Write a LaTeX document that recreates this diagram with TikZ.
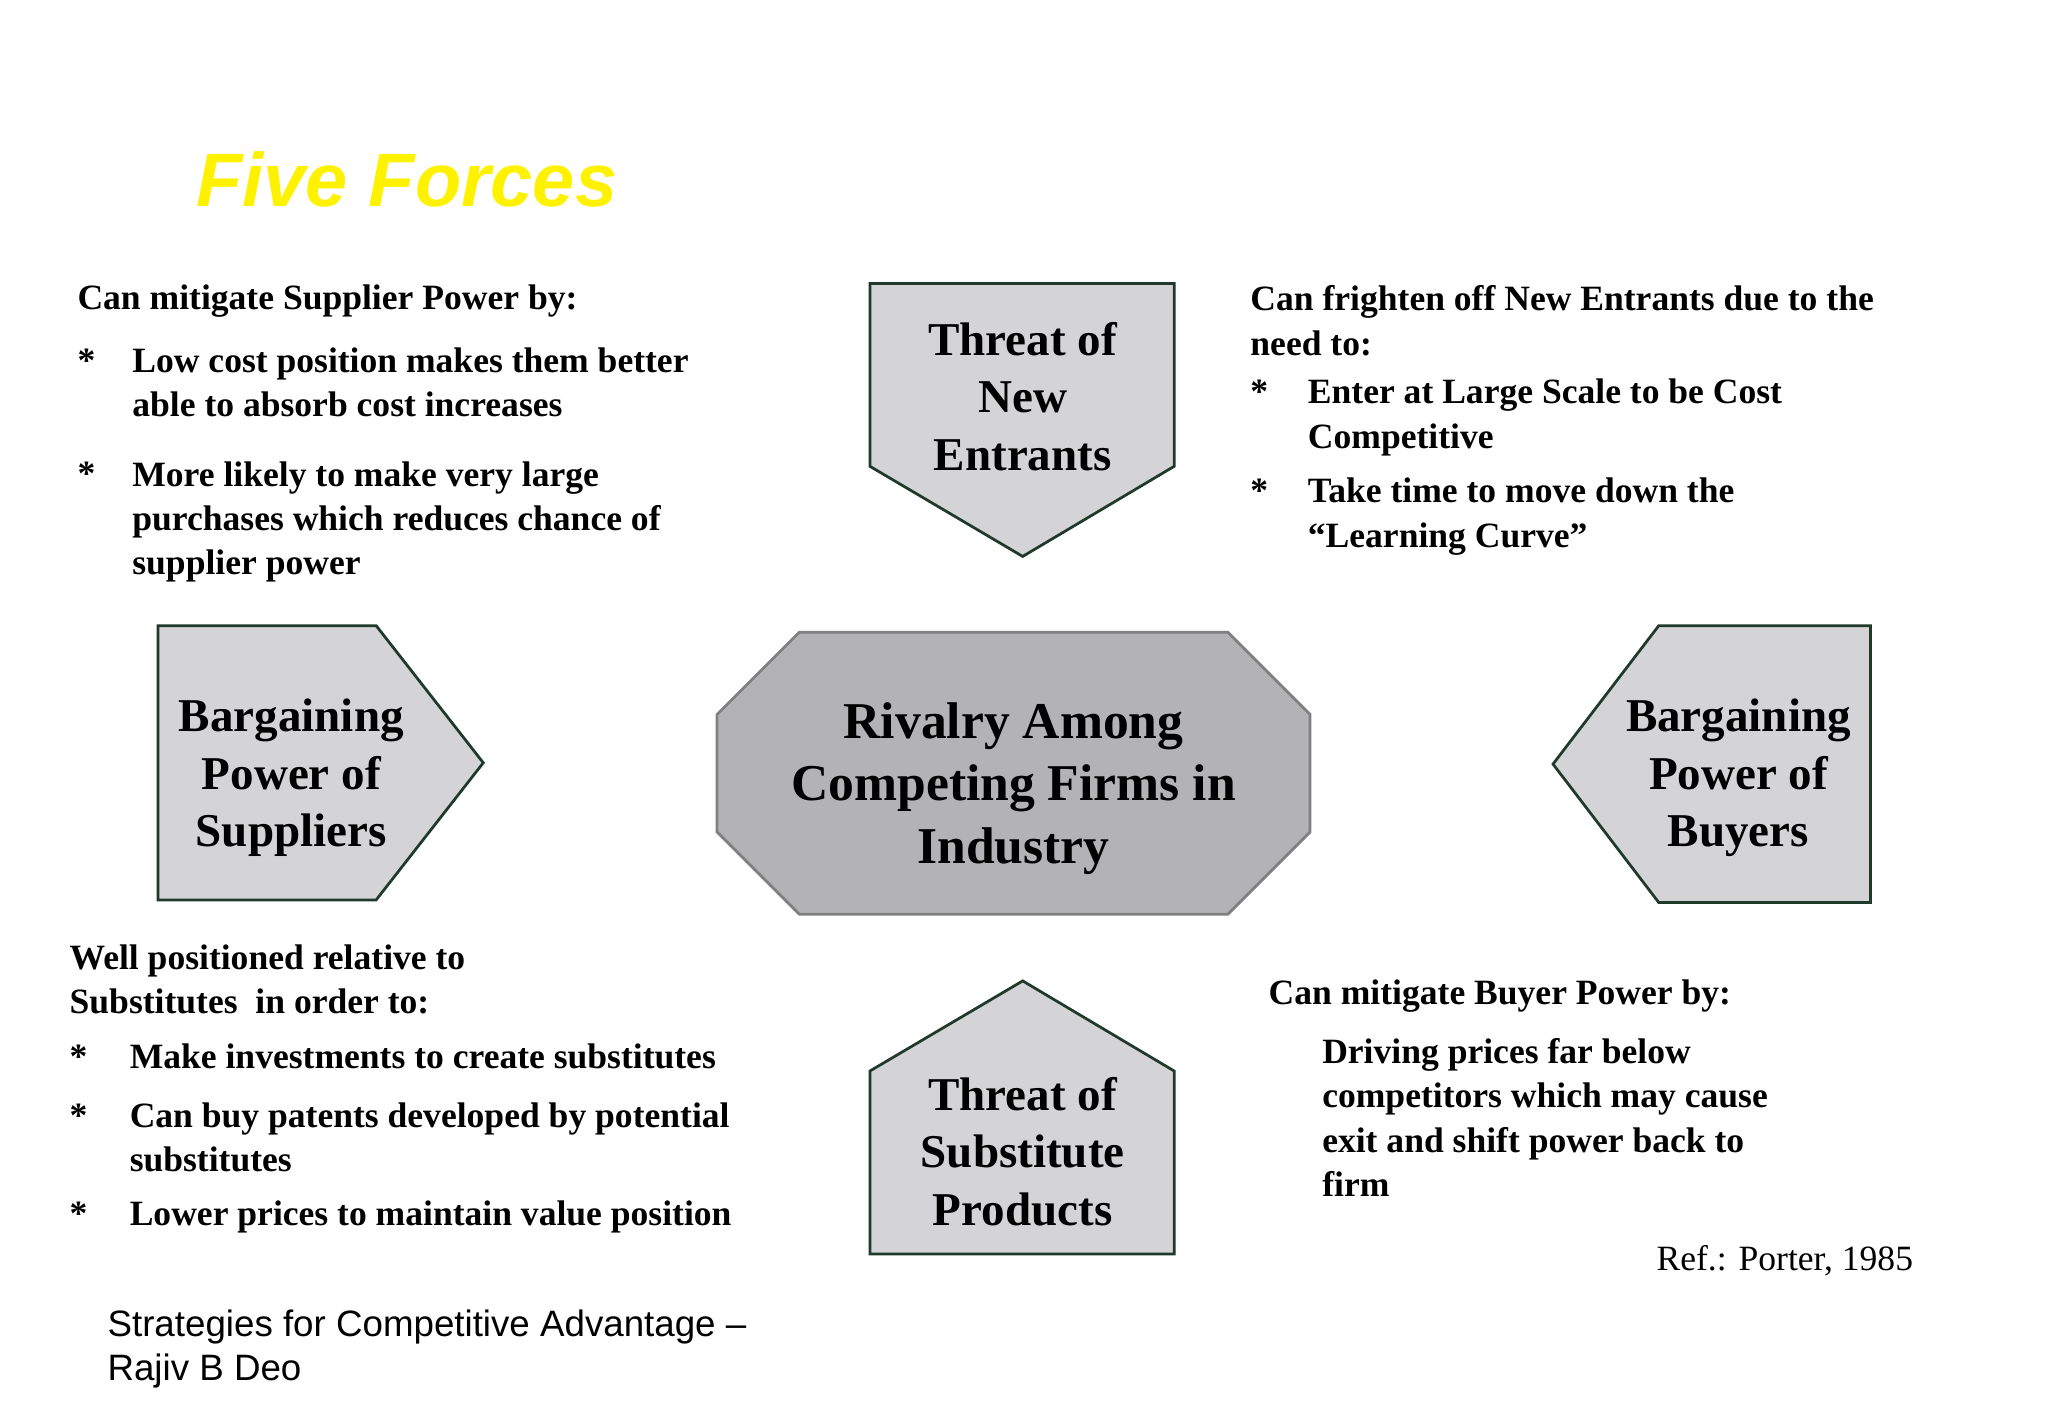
\documentclass[tikz,border=0pt]{standalone}
\usepackage{fontspec}
\setmainfont{Liberation Serif}
\newfontfamily\arialf{Liberation Sans}
\begin{document}
\begin{tikzpicture}[x=0.02cm,y=-0.02cm,
  box/.style={fill=boxgray,draw=darkgreen,line width=1.2pt,line join=miter},
  boxtxt/.style={anchor=base,align=center,inner sep=0,font=\bfseries\fontsize{20.5}{25}\selectfont},
  body/.style={anchor=base west,align=left,inner sep=0,font=\bfseries\fontsize{15.5}{19.3}\selectfont},
  star/.style={anchor=base west,inner sep=0,font=\bfseries\fontsize{15.5}{19.3}\selectfont}]
\definecolor{boxgray}{HTML}{D4D4D6}
\definecolor{darkgreen}{HTML}{1F3A2A}
\definecolor{rivgray}{HTML}{B3B2B5}
\useasboundingbox[fill=white] (0,0) rectangle (1568,1085);
\node[anchor=base west,inner sep=0,text=yellow,font=\arialf\bfseries\itshape\fontsize{33}{38}\selectfont] (title) at (150,158) {Five Forces};
% shapes
\draw[box] (666,217)--(899,217)--(899,357)--(783,426)--(666,357)--cycle;
\draw[box] (121,479)--(288,479)--(370,584)--(288,689)--(121,689)--cycle;
\draw[fill=rivgray,draw=gray,line width=1.2pt] (612,484)--(940,484)--(1003,547)--(1003,637)--(940,700)--(612,700)--(549,637)--(549,547)--cycle;
\draw[box] (1270,479)--(1432,479)--(1432,691)--(1270,691)--(1189,585)--cycle;
\draw[box] (666,820)--(783,751)--(899,820)--(899,960)--(666,960)--cycle;
\node[boxtxt] (ne) at (783,360) {Threat of\\New\\Entrants};
\node[boxtxt] (sup) at (223,648) {Bargaining\\Power of\\Suppliers};
\node[boxtxt] (buy) at (1331,648) {Bargaining\\Power of\\Buyers};
\node[boxtxt] (sub) at (783,938) {Threat of\\Substitute\\Products};
\node[boxtxt,font=\bfseries\fontsize{22.5}{27.3}\selectfont] (riv) at (776,661) {Rivalry Among\\Competing Firms in\\Industry};
% texts
\node[body] (t1) at (59,237) {Can mitigate Supplier Power by:};
\node[star] (s1) at (59,285) {*};
\node[body] (t2) at (101,319) {Low cost position makes them better\\able to absorb cost increases};
\node[star] (s2) at (59,372) {*};
\node[body] (t3) at (101,440) {More likely to make very large\\purchases which reduces chance of\\supplier power};
\node[body] (t4) at (957,272) {Can frighten off New Entrants due to the\\need to:};
\node[star] (s3) at (957,309) {*};
\node[body] (t5) at (1001,343) {Enter at Large Scale to be Cost\\Competitive};
\node[star] (s4) at (957,385) {*};
\node[body] (t6) at (1001,419) {Take time to move down the\\``Learning Curve''};
\node[body] (t7) at (53,776) {Well positioned relative to\\Substitutes\ \ in order to:};
\node[star] (s5) at (53,818) {*};
\node[body] (t8) at (99,818) {Make investments to create substitutes};
\node[star] (s6) at (53,863) {*};
\node[body] (t9) at (99,897) {Can buy patents developed by potential\\substitutes};
\node[star] (s7) at (53,938) {*};
\node[body] (t10) at (99,938) {Lower prices to maintain value position};
\node[body] (t11) at (971,769) {Can mitigate Buyer Power by:};
\node[body] (t12) at (1012,916) {Driving prices far below\\competitors which may cause\\exit and shift power back to\\firm};
\node[anchor=base east,inner sep=0,font=\fontsize{15.5}{19}\selectfont] (ref) at (1465,973) {Ref.: Porter, 1985};
\node[anchor=base west,align=left,inner sep=0,font=\arialf\fontsize{16}{19.3}\selectfont] (foot) at (82,1057) {Strategies for Competitive Advantage –\\Rajiv B Deo};
\end{tikzpicture}
\end{document}
